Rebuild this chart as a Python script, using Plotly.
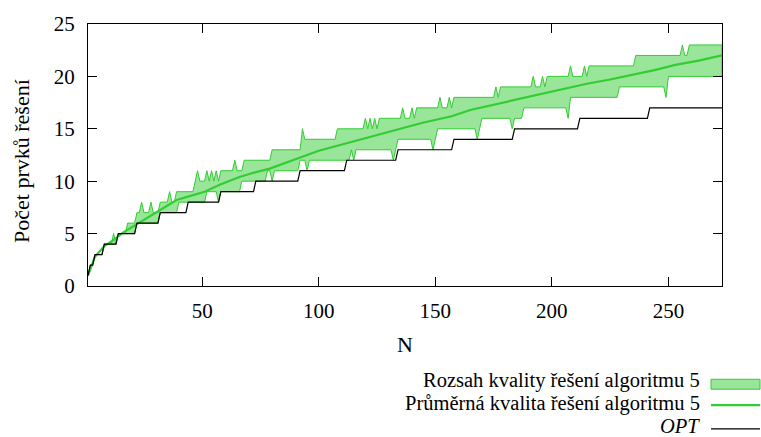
import plotly.graph_objects as go

# Optimum (OPT) as a step curve: vertices (N, value)
opt_n = [1, 2, 3, 4, 7, 8, 13, 14, 21, 22, 31, 32, 43, 44, 57, 58, 72, 73, 91, 92,
         111, 112, 133, 134, 157, 158, 183, 184, 211, 212, 241, 242, 273]
opt_v = [1, 2, 2, 3, 3, 4, 4, 5, 5, 6, 6, 7, 7, 8, 8, 9, 9, 10, 10, 11,
         11, 12, 12, 13, 13, 14, 14, 15, 15, 16, 16, 17, 17]

# Upper edge of the range (worst result of algorithm 5)
max_n = [1, 2, 3, 4, 7, 8, 11, 12, 13, 14, 17, 18, 21, 22, 23, 24, 25, 27, 28, 29,
         31, 32, 35, 36, 37, 38, 39, 46, 47, 48, 49, 51, 52, 53, 54, 55, 56, 57, 58,
         63, 64, 65, 67, 68, 79, 80, 92, 93, 94, 107, 108, 119, 120, 121, 122, 123,
         124, 125, 126, 135, 136, 137, 139, 140, 141, 142, 151, 152, 153, 155, 156,
         157, 158, 175, 176, 177, 178, 191, 192, 193, 195, 196, 197, 198, 207, 208,
         209, 213, 214, 215, 216, 235, 236, 255, 256, 257, 258, 259, 273]
max_v = [1, 2, 2, 3, 3, 4, 4, 5, 4, 5, 5, 6, 6, 7, 7, 8, 7, 7, 8, 7,
         7, 8, 8, 9, 8, 8, 9, 9, 10, 11, 10, 10, 11, 10, 11, 10, 11, 10, 11,
         11, 12, 11, 11, 12, 12, 13, 13, 15, 14, 14, 15, 15, 16, 15, 16, 15,
         16, 15, 16, 16, 17, 16, 16, 17, 16, 17, 17, 18, 17, 17, 18,
         17, 18, 18, 19, 18, 19, 19, 20, 19, 19, 20, 19, 20, 20, 21,
         20, 20, 21, 20, 21, 21, 22, 22, 23, 22, 22, 23, 23]

# Lower edge of the range (best result of algorithm 5)
min_n = [1, 2, 3, 4, 7, 8, 13, 14, 21, 22, 31, 32, 39, 40, 51, 52, 56, 57, 58, 66,
         67, 77, 78, 79, 80, 81, 91, 92, 94, 95, 96, 113, 114, 115, 116, 131, 132,
         133, 134, 148, 149, 150, 151, 167, 168, 169, 170, 182, 183, 184, 187,
         188, 206, 207, 208, 228, 229, 248, 249, 250, 273]
min_v = [1, 2, 2, 3, 3, 4, 4, 5, 5, 6, 6, 7, 7, 8, 8, 9, 9, 8, 9, 9,
         10, 10, 11, 11, 10, 11, 11, 12, 12, 11, 12, 12, 13, 12, 13, 13, 12,
         13, 14, 14, 13, 14, 15, 15, 14, 15, 16, 16, 15, 16, 16,
         17, 17, 16, 18, 18, 19, 19, 18, 20, 20]

# Average result of algorithm 5
mean_n = [1, 4, 8, 12, 16, 22, 27, 32, 39, 45, 51, 58, 66, 72, 79, 90, 100, 110,
          118, 126, 135, 145, 157, 165, 175, 185, 200, 215, 225, 234, 244, 253,
          263, 273]
mean_v = [1.0, 2.8, 3.8, 4.4, 5.1, 5.9, 6.6, 7.2, 8.2, 8.6, 9.0, 9.7, 10.4, 10.8,
          11.2, 12.1, 12.9, 13.5, 14.0, 14.5, 15.0, 15.6, 16.2, 16.8, 17.3, 17.8,
          18.6, 19.3, 19.7, 20.1, 20.6, 21.1, 21.5, 22.0]

x_ticks = [50, 100, 150, 200, 250]
y_ticks = [0, 5, 10, 15, 20, 25]

legend_labels = ["Rozsah kvality řešení algoritmu 5",
                 "Průměrná kvalita řešení algoritmu 5",
                 "OPT"]
legend_styles = ["normal", "normal", "italic"]

GREEN = "#33cc33"
FONT = "'Liberation Serif', 'DejaVu Serif', serif"
FS_TICK = 21
FS_TITLE = 22
FS_LEGEND = 20.5

W, H = 761, 437
L, R, T, B = 88, 722, 22, 286


def px(xp):
    return (xp - L) / (R - L)


def py(yp):
    return (B - yp) / (B - T)


fig = go.Figure()

fig.add_trace(go.Scatter(
    x=max_n + min_n[::-1], y=max_v + min_v[::-1],
    mode="lines", fill="toself", fillcolor="rgba(51,204,51,0.5)",
    line=dict(color=GREEN, width=1), hoverinfo="skip"))

fig.add_trace(go.Scatter(
    x=mean_n, y=mean_v, mode="lines",
    line=dict(color=GREEN, width=2.2)))

fig.add_trace(go.Scatter(
    x=opt_n, y=opt_v, mode="lines",
    line=dict(color="black", width=1.2)))

axis_common = dict(
    showgrid=False, zeroline=False, showline=True, linecolor="black",
    linewidth=1, mirror="ticks", ticks="inside", ticklen=9, tickwidth=1,
    tickcolor="black", tickfont=dict(family=FONT, size=FS_TICK, color="black"),
)

fig.update_layout(
    width=W, height=H,
    margin=dict(l=L, r=W - R, t=T, b=H - B),
    paper_bgcolor="white", plot_bgcolor="white",
    showlegend=False,
    xaxis=dict(range=[1, 273], tickvals=x_ticks, ticklabelstandoff=6, **axis_common),
    yaxis=dict(range=[0, 25], tickvals=y_ticks, ticklabelstandoff=8, **axis_common),
)

annotations = [
    dict(text="Počet prvků řešení", x=px(22), y=py(160), textangle=-90,
         xanchor="center", yanchor="middle",
         font=dict(family=FONT, size=FS_TITLE, color="black")),
    dict(text="N", x=px(405), y=py(345), xanchor="center", yanchor="middle",
         font=dict(family=FONT, size=FS_TITLE, color="black")),
]
rows_y = [381, 404, 427]
for label, style, yy in zip(legend_labels, legend_styles, rows_y):
    annotations.append(dict(text=label, x=px(701), y=py(yy),
                            xanchor="right", yanchor="middle",
                            font=dict(family=FONT, size=FS_LEGEND, color="black",
                                      style=style)))
for a in annotations:
    a.update(xref="paper", yref="paper", showarrow=False, borderpad=0)
fig.update_layout(annotations=annotations)

fig.add_shape(type="rect", xref="paper", yref="paper",
              x0=px(711), x1=px(760), y0=py(390), y1=py(380),
              fillcolor="rgba(51,204,51,0.5)", line=dict(color=GREEN, width=1))
fig.add_shape(type="line", xref="paper", yref="paper",
              x0=px(711), x1=px(760), y0=py(406), y1=py(406),
              line=dict(color=GREEN, width=2.2))
fig.add_shape(type="line", xref="paper", yref="paper",
              x0=px(711), x1=px(760), y0=py(430), y1=py(430),
              line=dict(color="black", width=1.2))

fig.write_html("out.html")
